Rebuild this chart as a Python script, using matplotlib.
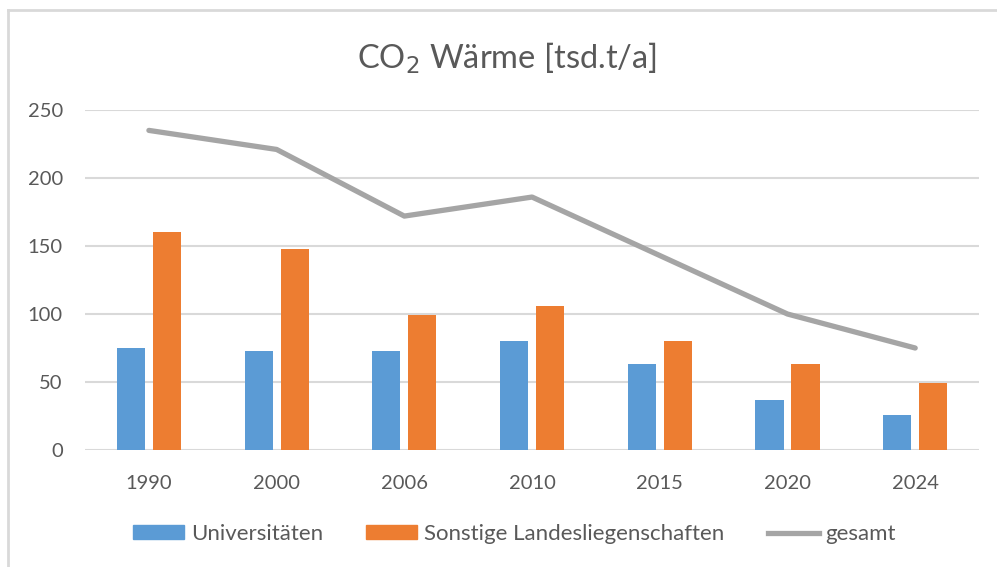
import numpy as np
import matplotlib
matplotlib.use('Agg')
import matplotlib.pyplot as plt
from matplotlib.lines import Line2D

years = ['1990', '2000', '2006', '2010', '2015', '2020', '2024']
universitaeten = [75, 73, 73, 80, 63, 37, 26]
sonstige = [160, 148, 99, 106, 80, 63, 49]
gesamt = [235, 221, 172, 186, 143, 100, 75]

c_uni = '#5B9BD5'
c_son = '#ED7D31'
c_ges = '#A5A5A5'
c_txt = '#595959'
c_grid = '#D9D9D9'

plt.rcParams['font.family'] = ['Lato', 'DejaVu Sans']

fig = plt.figure(figsize=(9.97, 5.67), dpi=100)
ax = fig.add_axes([0.0853, 0.2063, 0.8967, 0.5997])

x = np.arange(len(years))
w = 0.22
ax.bar(x - 0.141, universitaeten, w, color=c_uni, label='Universitäten', zorder=2)
ax.bar(x + 0.141, sonstige, w, color=c_son, label='Sonstige Landesliegenschaften', zorder=2)
ax.plot(x, gesamt, color=c_ges, lw=3.8, solid_capstyle='round', label='gesamt', zorder=3)

ax.set_xlim(-0.5, len(years) - 0.5)
ax.set_ylim(0, 250)
ax.set_yticks(np.arange(0, 251, 50))
ax.set_xticks(x)
ax.set_xticklabels(years)
ax.yaxis.grid(True, color=c_grid, lw=1.5, zorder=0)
ax.set_axisbelow(True)
for s in ax.spines.values():
    s.set_visible(False)
ax.tick_params(length=0, labelsize=14.5, colors=c_txt)
ax.tick_params(axis='x', pad=18)
ax.tick_params(axis='y', pad=16)

fig.text(0.508, 0.897, 'CO$_2$ Wärme [tsd.t/a]', ha='center', va='center',
         fontsize=23.5, color=c_txt)

handles = [plt.Rectangle((0, 0), 1, 1, color=c_uni),
           plt.Rectangle((0, 0), 1, 1, color=c_son),
           Line2D([0], [0], color=c_ges, lw=3.8)]
fig.legend(handles, ['Universitäten', 'Sonstige Landesliegenschaften', 'gesamt'],
           loc='center', bbox_to_anchor=(0.516, 0.058), ncol=3, frameon=False,
           fontsize=16, labelcolor=c_txt, handlelength=2.3, handleheight=0.6,
           handletextpad=0.3, columnspacing=1.95)

# outer frame (top and left edges visible)
fig.add_artist(Line2D([0.008, 0.008], [0.0, 0.982], color=c_grid, lw=2,
                      transform=fig.transFigure))
fig.add_artist(Line2D([0.008, 1.0], [0.982, 0.982], color=c_grid, lw=2,
                      transform=fig.transFigure))

fig.savefig('out.png', dpi=100)
